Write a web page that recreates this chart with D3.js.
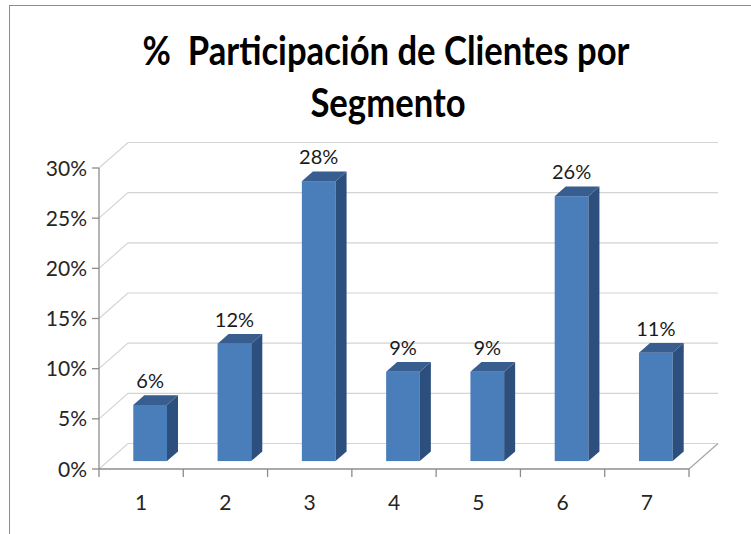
<!DOCTYPE html>
<html>
<head>
<meta charset="utf-8">
<script src="https://cdn.jsdelivr.net/npm/d3@7"></script>
<style>
  body { margin: 0; background: #fff; }
  svg { display: block; }
  text { font-family: Lato, "Open Sans", sans-serif; }
</style>
</head>
<body>
<svg width="751" height="534"></svg>
<script>
// chart data
var categories = ["1", "2", "3", "4", "5", "6", "7"];
var values = [0.056, 0.117, 0.279, 0.089, 0.089, 0.264, 0.108];
var yTicks = [0, 0.05, 0.10, 0.15, 0.20, 0.25, 0.30];
var titleLines = ["%  Participación de Clientes por", "Segmento"];

var svg = d3.select("svg");

// outer chart frame (runs off the right/bottom edge like the screenshot)
svg.append("rect")
    .attr("x", 9.5)
    .attr("y", 5.5)
    .attr("width", 800)
    .attr("height", 600)
    .attr("fill", "#fff")
    .attr("stroke", "#8c8c8c");

var x = d3.scaleBand().domain(categories).range([99, 689]),
    y = d3.scaleLinear().domain([0, 0.30]).range([469, 168]);

// oblique depth of the 3d box
var depthX = 29, depthY = -25.5;
var barFront = 0.31, barBack = 0.69;
var barW = x.bandwidth() * 0.4;
var fmt = d3.format(".0%");

var g = svg.append("g");

// side wall + back wall gridlines
yTicks.forEach(function(t) {
  g.append("path")
      .attr("fill", "none")
      .attr("stroke", "#d4d4d4")
      .attr("stroke-width", 1.2)
      .attr("d", "M" + 99 + "," + y(t) + "L" + (99 + depthX) + "," + (y(t) + depthY) +
                 "L" + (689 + depthX) + "," + (y(t) + depthY));
});

// floor right edge
g.append("path")
    .attr("fill", "none")
    .attr("stroke", "#a6a6a6")
    .attr("stroke-width", 1.2)
    .attr("d", "M689," + y(0) + "L" + (689 + depthX) + "," + (y(0) + depthY));

// y axis
g.append("line")
    .attr("x1", 99).attr("x2", 99)
    .attr("y1", y(0.30)).attr("y2", y(0))
    .attr("stroke", "#8c8c8c")
    .attr("stroke-width", 1.3);

g.selectAll(".ytick")
    .data(yTicks)
  .enter().append("line")
    .attr("class", "ytick")
    .attr("x1", 92).attr("x2", 99)
    .attr("y1", function(d) { return y(d); })
    .attr("y2", function(d) { return y(d); })
    .attr("stroke", "#8c8c8c")
    .attr("stroke-width", 1.3);

g.selectAll(".ylabel")
    .data(yTicks)
  .enter().append("text")
    .attr("class", "ylabel")
    .attr("x", 87)
    .attr("y", function(d) { return y(d); })
    .attr("dy", "0.36em")
    .attr("text-anchor", "end")
    .attr("fill", "#262626")
    .style("font-size", "21px")
    .text(function(d) { return fmt(d); });

// x axis (front floor edge)
g.append("line")
    .attr("x1", 99).attr("x2", 689)
    .attr("y1", y(0)).attr("y2", y(0))
    .attr("stroke", "#8c8c8c")
    .attr("stroke-width", 1.3);

var bounds = categories.map(function(c) { return x(c); }).concat([689]);
g.selectAll(".xtick")
    .data(bounds)
  .enter().append("line")
    .attr("class", "xtick")
    .attr("x1", function(d) { return d; })
    .attr("x2", function(d) { return d; })
    .attr("y1", y(0))
    .attr("y2", y(0) + 8)
    .attr("stroke", "#8c8c8c")
    .attr("stroke-width", 1.3);

g.selectAll(".xlabel")
    .data(categories)
  .enter().append("text")
    .attr("class", "xlabel")
    .attr("x", function(d) { return x(d) + x.bandwidth() / 2; })
    .attr("y", 502)
    .attr("dy", "0.36em")
    .attr("text-anchor", "middle")
    .attr("fill", "#262626")
    .style("font-size", "21px")
    .text(function(d) { return d; });

// bars
var data = categories.map(function(c, i) { return {cat: c, value: values[i]}; });
var ddx = depthX * (barBack - barFront), ddy = depthY * (barBack - barFront);

function barLeft(d) { return x(d.cat) + x.bandwidth() / 2 - barW / 2 + depthX * barFront; }
function barBase() { return y(0) + depthY * barFront; }
function barTop(d) { return y(d.value) + depthY * barFront; }

var bars = g.selectAll(".bar")
    .data(data)
  .enter().append("g")
    .attr("class", "bar");

bars.append("rect")
    .attr("x", function(d) { return barLeft(d); })
    .attr("y", function(d) { return barTop(d); })
    .attr("width", barW)
    .attr("height", function(d) { return barBase() - barTop(d); })
    .attr("fill", "#4a7ebb");

bars.append("path")
    .attr("fill", "#2c4f7e")
    .attr("d", function(d) {
      var r = barLeft(d) + barW, t = barTop(d), b = barBase();
      return "M" + r + "," + t + "L" + (r + ddx) + "," + (t + ddy) +
             "L" + (r + ddx) + "," + (b + ddy) + "L" + r + "," + b + "Z";
    });

bars.append("path")
    .attr("fill", "#385e90")
    .attr("d", function(d) {
      var l = barLeft(d), r = l + barW, t = barTop(d);
      return "M" + l + "," + t + "L" + r + "," + t + "L" + (r + ddx) + "," + (t + ddy) +
             "L" + (l + ddx) + "," + (t + ddy) + "Z";
    });

bars.append("text")
    .attr("x", function(d) { return barLeft(d) + barW / 2; })
    .attr("y", function(d) { return barTop(d) - 17; })
    .attr("text-anchor", "middle")
    .attr("fill", "#1a1a1a")
    .style("font-size", "20px")
    .text(function(d) { return fmt(d.value); });

// title, squeezed a bit to match the narrow original face
var title = svg.append("g");
var t1 = title.append("text")
    .attr("text-anchor", "middle")
    .attr("font-weight", "bold")
    .style("font-size", "40px")
    .style("white-space", "pre")
    .attr("fill", "#000")
    .text(titleLines[0]);
var sx = 487 / t1.node().getComputedTextLength();
t1.attr("transform", "translate(386,65) scale(" + sx + ",1)");

title.append("text")
    .attr("text-anchor", "middle")
    .attr("font-weight", "bold")
    .style("font-size", "40px")
    .attr("fill", "#000")
    .attr("transform", "translate(388,117) scale(" + sx + ",1)")
    .text(titleLines[1]);
</script>
</body>
</html>
